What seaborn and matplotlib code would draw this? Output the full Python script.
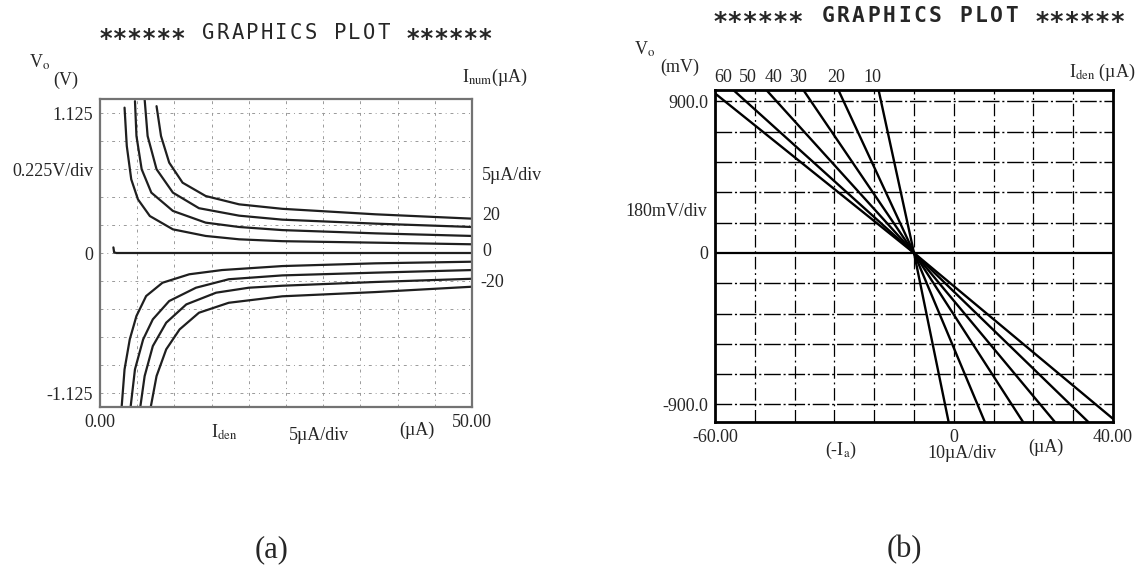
import matplotlib
matplotlib.use('Agg')
import pandas as pd
import matplotlib.pyplot as plt
import seaborn as sns

sns.set_theme(style='white')
plt.rcParams['font.family'] = ['Liberation Serif', 'DejaVu Serif']
plt.rcParams['mathtext.fontset'] = 'stix'

W, H = 1147, 573

# ---- (a) Vo (V) against Iden (uA), one curve per Inum (uA)
a_inum = [20, 15, 10, 5, 0, -5, -10, -15, -20]
iden_p20 = [7.6, 8.2, 9.3, 11.1, 14.2, 18.7, 24.5, 37, 50]
vo_p20 = [1.18, 0.94, 0.726, 0.565, 0.458, 0.391, 0.355, 0.311, 0.276]
iden_p15 = [6.0, 6.4, 7.6, 9.8, 13.3, 18.7, 24.5, 37, 50]
vo_p15 = [1.235, 0.94, 0.673, 0.485, 0.36, 0.30, 0.268, 0.236, 0.209]
iden_p10 = [4.7, 4.9, 5.6, 6.9, 9.8, 14.2, 18.7, 24.5, 37, 50]
vo_p10 = [1.22, 0.94, 0.673, 0.485, 0.338, 0.244, 0.209, 0.184, 0.158, 0.137]
iden_p5 = [3.3, 3.6, 4.2, 5.1, 6.7, 9.8, 14.2, 18.7, 24.5, 37, 50]
vo_p5 = [1.168, 0.86, 0.592, 0.431, 0.297, 0.19, 0.137, 0.11, 0.095, 0.083, 0.07]
iden_0 = [1.8, 1.9, 2.2, 50]
vo_0 = [0.045, 0.005, 0.0, 0.0]
iden_m5 = [2.9, 3.3, 4.0, 4.9, 6.2, 8.4, 12.0, 16.4, 24.5, 37, 50]
vo_m5 = [-1.244, -0.935, -0.694, -0.506, -0.346, -0.239, -0.171, -0.137, -0.105, -0.083, -0.07]
iden_m10 = [4.1, 4.7, 5.8, 7.1, 9.3, 12.9, 17.3, 24.5, 37, 50]
vo_m10 = [-1.244, -0.935, -0.694, -0.533, -0.386, -0.279, -0.211, -0.18, -0.158, -0.137]
iden_m15 = [5.4, 6.0, 7.1, 8.9, 11.6, 15.6, 20.0, 24.5, 37, 50]
vo_m15 = [-1.244, -0.989, -0.748, -0.56, -0.413, -0.319, -0.279, -0.263, -0.233, -0.207]
iden_m20 = [6.8, 7.6, 8.9, 10.7, 13.3, 17.3, 24.5, 37, 50]
vo_m20 = [-1.244, -0.989, -0.774, -0.614, -0.48, -0.40, -0.348, -0.314, -0.271]

# ---- (b) Vo (mV) against -Ia (uA), one line per Iden (uA), all through (-10, 0)
b_iden = [10, 20, 30, 40, 50, 60]
b_x_start = [-18.9, -29.0, -37.8, -47.1, -55.4, -60.0]
b_v_start = [968, 968, 968, 968, 968, 948]
b_x_end = [-1.3, 7.8, 17.4, 25.4, 33.8, 40.0]
b_v_end = [-1004, -1004, -1004, -1004, -1004, -985]
b_cross = (-10.0, 0.0)
b_label_x = [-20.9, -30.0, -39.5, -45.6, -52.1, -58.4]

# build long tables for seaborn
a_curves = [(iden_p20, vo_p20), (iden_p15, vo_p15), (iden_p10, vo_p10), (iden_p5, vo_p5),
            (iden_0, vo_0), (iden_m5, vo_m5), (iden_m10, vo_m10), (iden_m15, vo_m15),
            (iden_m20, vo_m20)]
rows = []
for inum, (xs, ys) in zip(a_inum, a_curves):
    for x, y in zip(xs, ys):
        rows.append({'Inum': str(inum), 'Iden': x, 'Vo': y})
df_a = pd.DataFrame(rows)

rows = []
for i, iden in enumerate(b_iden):
    pts = [(b_x_start[i], b_v_start[i]), b_cross, (b_x_end[i], b_v_end[i])]
    for k, (x, y) in enumerate(pts):
        rows.append({'Iden': str(iden), 'order': k, 'Ia': x, 'Vo': y})
df_b = pd.DataFrame(rows)


def fx(px):
    return px / W


def fy(py):
    return 1 - py / H


fig = plt.figure(figsize=(W / 100, H / 100), dpi=100)

# ================= panel (a)
ax1 = fig.add_axes([fx(100), fy(407), 372 / W, 308 / H])
sns.lineplot(data=df_a, x='Iden', y='Vo', hue='Inum', estimator=None, sort=False,
             palette={k: '0.12' for k in df_a['Inum'].unique()}, legend=False,
             linewidth=1.6, ax=ax1)
ax1.set_xlim(0, 50)
ax1.set_ylim(-1.2375, 1.2375)
yt = [-1.125 + 0.225 * k for k in range(11)]
ylab = [''] * 11
ylab[0], ylab[5], ylab[8], ylab[10] = '-1.125', '0', '0.225V/div', '1.125'
ax1.set_yticks(yt)
ax1.set_yticklabels(ylab)
xt = list(range(0, 55, 5))
ax1.set_xticks(xt)
ax1.set_xticklabels(['0.00'] + [''] * 9 + ['50.00'])
ax1.grid(True, color='0.6', linestyle=(0, (3, 4, 1, 4)), linewidth=0.7)
ax1.tick_params(axis='y', direction='out', length=3, width=0.8, color='0.4', pad=2, labelsize=13)
ax1.tick_params(axis='x', direction='in', length=4, width=0.8, color='0.4', pad=5, labelsize=13)
ax1.set_xlabel('')
ax1.set_ylabel('')
for s in ax1.spines.values():
    s.set_color('0.45')
    s.set_linewidth(1.6)

fig.text(fx(29), fy(68), r'V$_{\rm o}$', fontsize=13, va='baseline')
fig.text(fx(66), fy(80), '(V)', fontsize=13, ha='center', va='center')
fig.text(fx(462), fy(82), r'I$_{\rm num}$(µA)', fontsize=13, va='baseline')
fig.text(fx(482), fy(175), '5µA/div', fontsize=13, va='center')
fig.text(fx(482), fy(215), '20', fontsize=13, va='center')
fig.text(fx(482), fy(252), '0', fontsize=13, va='center')
fig.text(fx(480), fy(283), '-20', fontsize=13, va='center')
fig.text(fx(211), fy(438), r'I$_{\rm den}$', fontsize=13, va='baseline')
fig.text(fx(319), fy(435), '5µA/div', fontsize=13, ha='center', va='center')
fig.text(fx(417), fy(430), '(µA)', fontsize=13, ha='center', va='center')

# ================= panel (b)
ax2 = fig.add_axes([fx(715), fy(422), 398 / W, 332 / H])
ax2.set_xlim(-60, 40)
ax2.set_ylim(-1004, 968)
for v in range(-900, 901, 180):
    if v == 0:
        ax2.axhline(v, color='black', linewidth=1.6, zorder=1)
    else:
        ax2.axhline(v, color='black', linewidth=1.0, linestyle=(0, (12, 2, 1.5, 2)), zorder=1)
for x in range(-50, 40, 10):
    ax2.axvline(x, color='black', linewidth=0.9, linestyle=(0, (10, 3, 1.5, 3)), zorder=1)
sns.lineplot(data=df_b, x='Ia', y='Vo', hue='Iden', units='Iden', estimator=None, sort=False,
             palette={k: 'black' for k in df_b['Iden'].unique()}, legend=False,
             linewidth=1.7, ax=ax2, zorder=3)
ax2.set_xticks([-60, 0, 40])
ax2.set_xticklabels(['-60.00', '0', '40.00'])
ax2.set_yticks([-900, 0, 900])
ax2.set_yticklabels(['-900.0', '0', '900.0'])
ax2.tick_params(axis='both', length=0, pad=5, labelsize=13)
ax2.set_xlabel('')
ax2.set_ylabel('')
for s in ax2.spines.values():
    s.set_color('black')
    s.set_linewidth(2.0)

fig.text(fx(634), fy(55), r'V$_{\rm o}$', fontsize=13, va='baseline')
fig.text(fx(680), fy(67), '(mV)', fontsize=13, ha='center', va='center')
fig.text(fx(1069), fy(77), r'I$_{\rm den}$ (µA)', fontsize=13, va='baseline')
for lab, xd in zip(b_iden, b_label_x):
    fig.text(fx(955 + xd * 3.97), fy(77), str(lab), fontsize=13, ha='center', va='center')
fig.text(fx(707), fy(211), '180mV/div', fontsize=13, ha='right', va='center')
fig.text(fx(841), fy(450), r'(-I$_{\rm a}$)', fontsize=13, ha='center', va='center')
fig.text(fx(962), fy(454), '10µA/div', fontsize=13, ha='center', va='center')
fig.text(fx(1046), fy(447), '(µA)', fontsize=13, ha='center', va='center')

# ================= dot-matrix style headers
# letters placed one by one on a wide pitch, star groups as one string each
words = ['******', 'GRAPHICS', 'PLOT', '******']


def header(x0, pitch, cap_bottom, cap_h, weight):
    em = cap_h / 0.729
    star_em = pitch / 0.602
    col = 0
    for w in words:
        if w.startswith('*'):
            base = cap_bottom - cap_h / 2 + 0.58 * star_em
            fig.text(fx(x0 + pitch * col), fy(base), w, fontsize=star_em / 1.389,
                     ha='left', va='baseline', family='DejaVu Sans Mono',
                     weight='bold', color='0.15')
        else:
            for i, ch in enumerate(w):
                cx = x0 + pitch * (col + i + 0.5)
                fig.text(fx(cx), fy(cap_bottom), ch, fontsize=em / 1.389, ha='center',
                         va='baseline', family='DejaVu Sans Mono', weight=weight,
                         color='0.15')
        col += len(w) + 1


header(99, 14.6, 39, 15, 'normal')
header(713, 15.3, 22, 15.5, 'bold')

fig.text(fx(272), fy(550), '(a)', fontsize=22, ha='center', va='center')
fig.text(fx(904), fy(550), '(b)', fontsize=22, ha='center', va='center')

fig.savefig('out.png', dpi=100, facecolor='white')
